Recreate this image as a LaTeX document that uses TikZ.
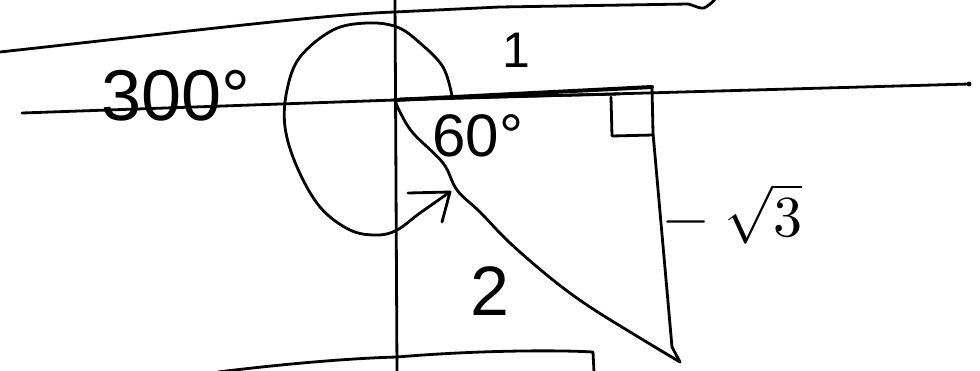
\documentclass[tikz,border=0pt]{standalone}
\usepackage{fontspec}
\usepackage{unicode-math}
\setmainfont{Liberation Sans}
\setmathfont{Latin Modern Math}
\begin{document}
\begin{tikzpicture}[x=1pt,y=-1pt,
  pen/.style={line width=2.8pt,line cap=round,line join=round,black},
  hand/.style={inner sep=0pt,outer sep=0pt,black}]
\useasboundingbox[fill=white] (0,0) rectangle (980,370);
% named points
\coordinate (O) at (395,100);
\coordinate (A) at (652,87);
\coordinate (B) at (680,362);
% top line
\draw[pen] (0,52) .. controls (200,30) and (330,14) .. (395,12) -- (500,7) -- (688,4) .. controls (696,6) and (700,9) .. (704,8) .. controls (708,6) and (712,3) .. (716,-2);
% x axis
\coordinate (xl) at (22,113);
\coordinate (xr) at (969,84);
\draw[pen] (xl) -- (O) -- (xr);
\fill (xr) circle (2.4pt);
% y axis
\coordinate (yt) at (395,-2);
\coordinate (yb) at (397,372);
\draw[pen] (yt) -- (yb);
% bottom line
\draw[pen] (218,372) .. controls (300,362) and (360,358) .. (397,357) .. controls (480,350) and (560,350) .. (593,352) -- (594,372);
% side 1 (thick)
\draw[pen,line width=4pt] (O) -- (A);
\draw[pen] (400,99) -- (620,94);
% vertical side
\draw[pen] (A) -- (653,133) -- (672,347) -- (B);
% hypotenuse
\draw[pen] (O) plot[smooth,tension=0.6] coordinates {(395,100) (400,112) (413,133) (443,163) (457,190) (480,212) (510,243) (553,280) (590,307) (640,338) (680,362)};
% right angle mark
\draw[pen] (611,97) -- (612,136) -- (653,135);
% 300 degree arrow
\draw[pen] plot[smooth,tension=0.6] coordinates {(452,96) (443,67) (420,43) (397,27) (367,23) (333,30) (300,57) (287,90) (285,127) (297,167) (320,207) (350,230) (377,235) (397,230) (420,213) (450,192)};
\coordinate (tip) at (450,192);
\draw[pen] (408,193) -- (tip) -- (442,222);
% labels
\node[hand,font=\fontsize{72}{72}\selectfont] (t300) at (176,96) {300°};
\node[hand,font=\fontsize{60}{60}\selectfont] (t60) at (478,136) {60°};
\node[hand,font=\fontsize{50}{50}\selectfont] (t1) at (516,50) {1};
\node[hand,font=\fontsize{70}{70}\selectfont] (t2) at (490,291) {2};
\node[hand,font=\fontsize{58}{58}\selectfont] (t3) at (733,214) {$-\mkern5mu\sqrt{3}$};
\end{tikzpicture}
\end{document}
